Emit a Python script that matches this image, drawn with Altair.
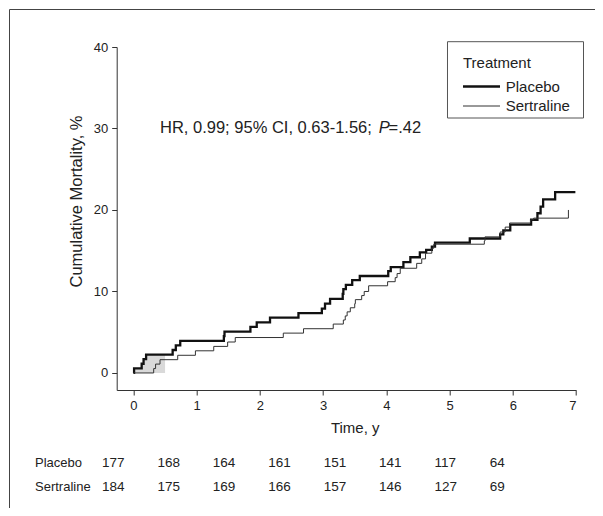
import altair as alt
import pandas as pd

FONT = "Liberation Sans, Arial, Helvetica, sans-serif"
INK = "#222222"

groups = ["Placebo", "Sertraline"]

# Kaplan-Meier style cumulative mortality (%)
placebo_time = [0, 0.01, 0.13, 0.16, 0.20, 0.62, 0.67, 0.74, 1.43, 1.44, 1.85, 1.95,
                2.16, 2.61, 2.98, 3.03, 3.11, 3.31, 3.32, 3.36, 3.46, 3.58, 4.03, 4.07,
                4.27, 4.38, 4.53, 4.63, 4.72, 4.77, 5.32, 5.80, 5.85, 5.96, 6.29, 6.39,
                6.44, 6.48, 6.67, 6.99]
placebo_cum = [0, 0.56, 1.13, 1.69, 2.26, 2.82, 3.39, 3.95, 4.52, 5.08, 5.65, 6.21,
               6.78, 7.34, 7.9, 8.5, 9.1, 9.7, 10.3, 10.8, 11.4, 11.9, 12.5, 13.0,
               13.6, 14.2, 14.8, 15.1, 15.5, 16.0, 16.5, 17.0, 17.5, 18.2, 18.8, 19.6,
               20.4, 21.3, 22.2, 22.2]

sertraline_time = [0, 0.32, 0.35, 0.42, 0.70, 0.98, 1.27, 1.49, 1.61, 2.37, 2.69, 3.16,
                   3.32, 3.35, 3.38, 3.43, 3.50, 3.51, 3.61, 3.65, 3.72, 4.02, 4.14, 4.17,
                   4.22, 4.48, 4.56, 4.62, 4.72, 4.75, 5.55, 5.56, 5.80, 5.88, 5.95, 6.28,
                   6.33, 6.88]
sertraline_cum = [0, 0.54, 1.09, 1.63, 2.17, 2.72, 3.26, 3.80, 4.35, 4.89, 5.43, 6.0,
                  6.5, 7.0, 7.5, 8.0, 8.5, 9.0, 9.5, 10.0, 10.7, 11.2, 11.7, 12.2,
                  12.85, 13.45, 14.0, 14.7, 15.3, 15.8, 16.2, 16.7, 17.3, 17.9, 18.4, 18.8,
                  19.0, 20.0]

# shaded early band (placebo curve to zero), ends at this time
band_end = 0.5

# number at risk
risk_cols = [0, 1, 2, 3, 4, 5, 6, 7]
placebo_risk = [177, 168, 164, 161, 151, 141, 117, 64]
sertraline_risk = [184, 175, 169, 166, 157, 146, 127, 69]

x_ticks = [0, 1, 2, 3, 4, 5, 6, 7]
y_ticks = [0, 10, 20, 30, 40]

annot_main = "HR, 0.99; 95% CI, 0.63-1.56; "
annot_p = "P"
annot_val = "=.42"

# ---------------- data tables ----------------
curves = pd.concat([
    pd.DataFrame({"group": "Placebo", "time": placebo_time, "cum": placebo_cum}),
    pd.DataFrame({"group": "Sertraline", "time": sertraline_time, "cum": sertraline_cum}),
], ignore_index=True)

band_t = [t for t in placebo_time if t <= band_end]
band_c = [c for t, c in zip(placebo_time, placebo_cum) if t <= band_end]
band = pd.DataFrame({"time": band_t + [band_end], "cum": band_c + [band_c[-1]], "base": 0.0})

annot = pd.DataFrame({
    "time": [0.42, 3.88, 4.035],
    "cum": [30.0, 30.0, 30.0],
    "txt": [annot_main, annot_p, annot_val],
    "italic": [False, True, False],
})

risk = pd.concat([
    pd.DataFrame({"group": "Placebo", "col": risk_cols, "n": placebo_risk}),
    pd.DataFrame({"group": "Sertraline", "col": risk_cols, "n": sertraline_risk}),
], ignore_index=True)
risk_labels = pd.DataFrame({"group": groups, "col": [-1.21, -1.21]})

one = pd.DataFrame({"k": [0]})

# ---------------- encodings ----------------
x_enc = alt.X("time:Q",
              scale=alt.Scale(domain=[-0.265, 7], nice=False, zero=False),
              axis=alt.Axis(values=x_ticks, format="d", title="Time, y", grid=False,
                            domainColor="#333", tickColor="#333", tickSize=5,
                            labelPadding=4, labelFontSize=13, titleFontSize=15,
                            titleFontWeight="normal", titleX=238, titleY=37,
                            titleAlign="center", titleBaseline="middle"))
y_enc = alt.Y("cum:Q",
              scale=alt.Scale(domain=[-2.09, 40], nice=False, zero=False),
              axis=alt.Axis(values=y_ticks, format="d", title="Cumulative Mortality, %",
                            grid=False, domainColor="#333", tickColor="#333", tickSize=5,
                            labelPadding=4, labelFontSize=13, titleFontSize=16.5,
                            titleFontWeight="normal", titleX=-40, titleY=154,
                            titleAlign="center", titleBaseline="middle", titleAngle=270))

color_enc = alt.Color("group:N", scale=alt.Scale(domain=groups, range=["#111111", "#333333"]),
                      legend=None)
width_enc = alt.StrokeWidth("group:N", scale=alt.Scale(domain=groups, range=[2.3, 1.0]),
                            legend=None)

area = alt.Chart(band).mark_area(interpolate="step-after", color="#d9d9d9").encode(
    x=x_enc, y=y_enc, y2="base:Q")

lines = alt.Chart(curves).mark_line(interpolate="step-after").encode(
    x=x_enc, y=y_enc, color=color_enc, strokeWidth=width_enc, detail="group:N")

annot_norm = alt.Chart(annot).transform_filter("!datum.italic").mark_text(
    align="left", baseline="middle", fontSize=16.5, color=INK).encode(
    x=x_enc, y=y_enc, text="txt:N")
annot_ital = alt.Chart(annot).transform_filter("datum.italic").mark_text(
    align="left", baseline="middle", fontSize=16.5, fontStyle="italic", color=INK).encode(
    x=x_enc, y=y_enc, text="txt:N")

main = alt.layer(area, lines, annot_norm, annot_ital)

# ---------------- number-at-risk table ----------------
col_x = alt.X("col:Q", scale=alt.Scale(domain=[0.265, 8.555], nice=False, zero=False), axis=None)
row_y = alt.Y("group:N", scale=alt.Scale(type="point", domain=groups, range=[416, 440], padding=0),
              axis=None)

table_nums = alt.Chart(risk).mark_text(align="left", baseline="middle", fontSize=13.5, color=INK).encode(
    x=col_x, y=row_y, text="n:Q")
table_labs = alt.Chart(risk_labels).mark_text(align="left", baseline="middle", fontSize=13, color=INK).encode(
    x=col_x, y=row_y, text="group:N")
table = alt.layer(table_labs, table_nums)

# ---------------- legend (boxed) ----------------
leg_y = alt.Y("group:N", scale=alt.Scale(type="point", domain=groups, range=[39.5, 59], padding=0),
              axis=None)
leg_box = alt.Chart(one).mark_rect(fillOpacity=0, stroke="#555", strokeWidth=1).encode(
    x=alt.value(330.8), x2=alt.value(466.8), y=alt.value(-5.3), y2=alt.value(71))
leg_title = alt.Chart(one).mark_text(align="left", baseline="middle", fontSize=15, color=INK).encode(
    x=alt.value(346.3), y=alt.value(16), text=alt.value("Treatment"))
leg_sym = alt.Chart(pd.DataFrame({"group": groups})).mark_rule().encode(
    x=alt.value(346.3), x2=alt.value(383.3), y=leg_y, color=color_enc, strokeWidth=width_enc)
leg_lab = alt.Chart(pd.DataFrame({"group": groups})).mark_text(
    align="left", baseline="middle", fontSize=15, color=INK).encode(
    x=alt.value(389), y=leg_y, text="group:N")
legend = alt.layer(leg_box, leg_title, leg_sym, leg_lab)

# ---------------- outer frame (top and left edges) ----------------
frame_top = alt.Chart(one).mark_rule(color="#444", strokeWidth=1).encode(
    x=alt.value(-107.2), x2=alt.value(478.3), y=alt.value(-37.5))
frame_left = alt.Chart(one).mark_rule(color="#444", strokeWidth=1).encode(
    x=alt.value(-107.2), y=alt.value(-37.5), y2=alt.value(461))
frame = alt.layer(frame_top, frame_left)

chart = alt.layer(main, table, legend, frame).resolve_scale(
    x="independent", y="independent", color="independent", strokeWidth="independent"
).properties(
    width=459.3, height=343,
    padding={"left": 108.7, "top": 39, "right": 19, "bottom": 118},
    autosize=alt.AutoSizeParams(type="none"),
).configure_view(stroke=None).configure_axis(
    labelFont=FONT, titleFont=FONT, labelColor=INK, titleColor=INK
).configure_text(font=FONT)

chart.save("out.html", embed_options={"renderer": "svg", "actions": False})
